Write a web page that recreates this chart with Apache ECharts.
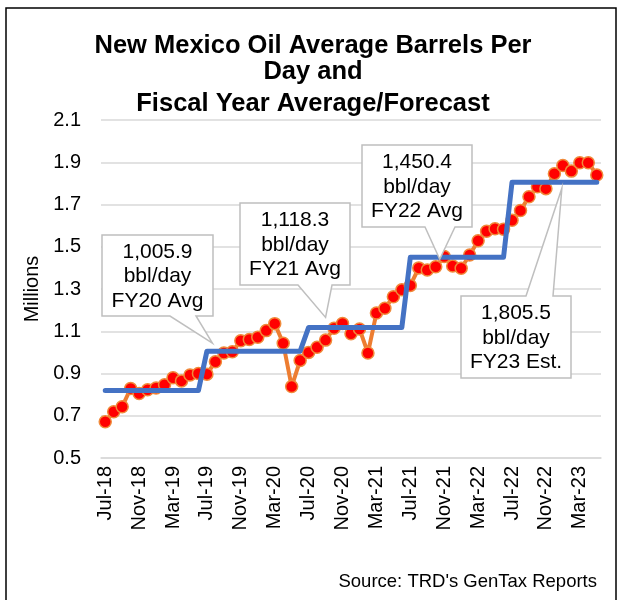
<!DOCTYPE html>
<html>
<head>
<meta charset="utf-8">
<script src="https://cdn.jsdelivr.net/npm/echarts@6/dist/echarts.min.js"></script>
<style>
  html, body { margin: 0; padding: 0; background: #fff; }
  #chart { width: 622px; height: 600px; }
</style>
</head>
<body>
<div id="chart"></div>
<script>
// Monthly categories, Jul-18 through May-23
const months = [
  'Jul-18','Aug-18','Sep-18','Oct-18','Nov-18','Dec-18',
  'Jan-19','Feb-19','Mar-19','Apr-19','May-19','Jun-19',
  'Jul-19','Aug-19','Sep-19','Oct-19','Nov-19','Dec-19',
  'Jan-20','Feb-20','Mar-20','Apr-20','May-20','Jun-20',
  'Jul-20','Aug-20','Sep-20','Oct-20','Nov-20','Dec-20',
  'Jan-21','Feb-21','Mar-21','Apr-21','May-21','Jun-21',
  'Jul-21','Aug-21','Sep-21','Oct-21','Nov-21','Dec-21',
  'Jan-22','Feb-22','Mar-22','Apr-22','May-22','Jun-22',
  'Jul-22','Aug-22','Sep-22','Oct-22','Nov-22','Dec-22',
  'Jan-23','Feb-23','Mar-23','Apr-23','May-23'
];

// Average barrels per day, millions
const monthlyBbl = [
  0.672, 0.719, 0.743, 0.829, 0.805, 0.823,
  0.831, 0.847, 0.880, 0.865, 0.893, 0.900,
  0.897, 0.956, 0.997, 1.003, 1.055, 1.061,
  1.072, 1.103, 1.136, 1.043, 0.838, 0.962,
  1.000, 1.024, 1.058, 1.114, 1.137, 1.088,
  1.111, 0.997, 1.186, 1.209, 1.263, 1.296,
  1.317, 1.400, 1.390, 1.405, 1.454, 1.409,
  1.398, 1.461, 1.528, 1.573, 1.585, 1.583,
  1.625, 1.672, 1.737, 1.784, 1.775, 1.846,
  1.885, 1.858, 1.898, 1.898, 1.840
];

// Fiscal-year average (FY runs Jul-Jun), repeated for each month of the year
const fyAvgByMonth = [
  0.820, 0.820, 0.820, 0.820, 0.820, 0.820,
  0.820, 0.820, 0.820, 0.820, 0.820, 0.820,
  1.0059, 1.0059, 1.0059, 1.0059, 1.0059, 1.0059,
  1.0059, 1.0059, 1.0059, 1.0059, 1.0059, 1.0059,
  1.1183, 1.1183, 1.1183, 1.1183, 1.1183, 1.1183,
  1.1183, 1.1183, 1.1183, 1.1183, 1.1183, 1.1183,
  1.4504, 1.4504, 1.4504, 1.4504, 1.4504, 1.4504,
  1.4504, 1.4504, 1.4504, 1.4504, 1.4504, 1.4504,
  1.8055, 1.8055, 1.8055, 1.8055, 1.8055, 1.8055,
  1.8055, 1.8055, 1.8055, 1.8055, 1.8055
];

// Callouts: which month the pointer attaches to, and the caption under the value
const calloutMonth = [13, 26, 39, 54];
const calloutCaption = ['FY20 Avg', 'FY21 Avg', 'FY22 Avg', 'FY23 Est.'];

const titleLines = ['New Mexico Oil Average Barrels Per', 'Day and', 'Fiscal Year Average/Forecast'];

const FONT = "'Liberation Sans', Arial, sans-serif";

const chart = echarts.init(document.getElementById('chart'), null, { renderer: 'canvas' });

chart.setOption({
  animation: false,
  backgroundColor: '#fff',
  grid: { left: 101, right: 21, top: 120, bottom: 142 },
  xAxis: {
    type: 'category',
    data: months,
    boundaryGap: true,
    axisLine: { lineStyle: { color: '#d9d9d9', width: 1.5 } },
    axisTick: { interval: 3, length: 5, lineStyle: { color: '#d9d9d9', width: 1.5 } },
    axisLabel: {
      interval: 3, rotate: 90, margin: 8,
      fontFamily: FONT, fontSize: 20, color: '#000'
    },
    splitLine: { show: false }
  },
  yAxis: {
    type: 'value',
    min: 0.5, max: 2.1, interval: 0.2,
    name: 'Millions',
    nameLocation: 'middle',
    nameGap: 54,
    nameRotate: 90,
    nameTextStyle: { fontFamily: FONT, fontSize: 20, color: '#000' },
    axisLine: { show: false },
    axisTick: { show: false },
    axisLabel: {
      margin: 20, fontFamily: FONT, fontSize: 20, color: '#000',
      formatter: v => v.toFixed(1)
    },
    splitLine: { lineStyle: { color: '#d9d9d9', width: 1.5 } }
  },
  series: [
    {
      name: 'Monthly',
      type: 'line',
      data: monthlyBbl,
      symbol: 'circle',
      symbolSize: 12,
      showAllSymbol: true,
      lineStyle: { color: '#ED7D31', width: 4 },
      itemStyle: { color: '#FF0000', borderColor: '#F08A3A', borderWidth: 1.5 },
      z: 3
    },
    {
      name: 'FY Average',
      type: 'line',
      data: fyAvgByMonth,
      symbol: 'none',
      lineStyle: { color: '#4472C4', width: 5, cap: 'round', join: 'round' },
      z: 4
    }
  ]
});

function fmtThousands(v) {
  const s = (v * 1000).toFixed(1);
  const [ip, dp] = s.split('.');
  return ip.replace(/\B(?=(\d{3})+(?!\d))/g, ',') + '.' + dp;
}

// Callout boxes: box rectangle, pointer base span, side of the pointer, and tip offset
const boxes = [
  { x0: 102, y0: 235, x1: 213, y1: 316, b0: 170, b1: 196, side: 'bottom', dx: -3, dy: -8 },
  { x0: 240, y0: 203, x1: 350, y1: 285, b0: 298, b1: 332, side: 'bottom', dx: 0, dy: -10 },
  { x0: 362, y0: 145, x1: 472, y1: 227, b0: 425, b1: 455, side: 'bottom', dx: 4, dy: 2 },
  { x0: 461, y0: 296, x1: 571, y1: 378, b0: 526, b1: 553, side: 'top', dx: -1, dy: 6 }
];

const graphics = [];

// Title, three centred lines
const titleY = [46, 72, 103.5];
titleLines.forEach((t, i) => {
  graphics.push({
    type: 'text', z: 11,
    x: 313, y: titleY[i],
    style: {
      text: t, fontFamily: FONT, fontSize: 25.5, fontWeight: 'bold',
      fill: '#000', align: 'center', verticalAlign: 'middle'
    }
  });
});

boxes.forEach((b, k) => {
  const idx = calloutMonth[k];
  const p = chart.convertToPixel({ gridIndex: 0 }, [idx, fyAvgByMonth[idx]]);
  const tip = [p[0] + b.dx, p[1] + b.dy];
  let pts;
  if (b.side === 'bottom') {
    pts = [[b.x0, b.y0], [b.x1, b.y0], [b.x1, b.y1], [b.b1, b.y1], tip, [b.b0, b.y1], [b.x0, b.y1]];
  } else {
    pts = [[b.x0, b.y0], [b.b0, b.y0], tip, [b.b1, b.y0], [b.x1, b.y0], [b.x1, b.y1], [b.x0, b.y1]];
  }
  graphics.push({
    type: 'polygon', z: 10,
    shape: { points: pts },
    style: { fill: '#fff', stroke: '#bfbfbf', lineWidth: 1.5 }
  });
  graphics.push({
    type: 'text', z: 11,
    x: (b.x0 + b.x1) / 2, y: (b.y0 + b.y1) / 2 + 1,
    style: {
      text: fmtThousands(fyAvgByMonth[idx]) + '\nbbl/day\n' + calloutCaption[k],
      fontFamily: FONT, fontSize: 21, lineHeight: 24.5,
      fill: '#000', align: 'center', verticalAlign: 'middle'
    }
  });
});

// Outer frame
graphics.push({
  type: 'rect', z: 20,
  shape: { x: 6, y: 8, width: 610, height: 610 },
  style: { fill: 'none', stroke: '#000', lineWidth: 1.5 }
});

// Source note
graphics.push({
  type: 'text', z: 11,
  x: 597, y: 582,
  style: {
    text: "Source: TRD's GenTax Reports",
    fontFamily: FONT, fontSize: 18.5, fill: '#000',
    align: 'right', verticalAlign: 'middle'
  }
});

chart.setOption({ graphic: graphics });
</script>
</body>
</html>
